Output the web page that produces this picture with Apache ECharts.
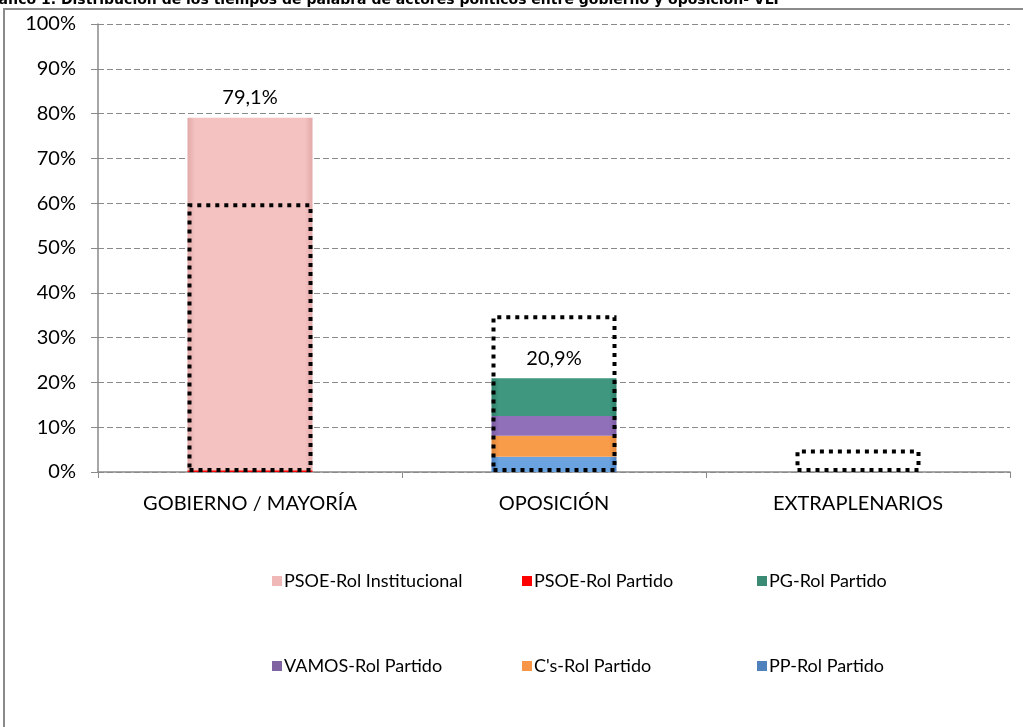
<!DOCTYPE html>
<html>
<head>
<meta charset="utf-8">
<script src="https://cdn.jsdelivr.net/npm/echarts@6/dist/echarts.min.js"></script>
<style>
html,body{margin:0;padding:0;background:#fff;}
#chart{width:1023px;height:727px;}
</style>
</head>
<body>
<div id="chart"></div>
<script>
const titleText = 'Gráfico 1. Distribución de los tiempos de palabra de actores políticos entre gobierno y oposición- VLP';
const categories = ['GOBIERNO / MAYORÍA', 'OPOSICIÓN', 'EXTRAPLENARIOS'];
const psoeInstitucional = [78.7, 0, 0];
const psoePartido = [0.4, 0, 0];
const pgPartido = [0, 8.4, 0];
const vamosPartido = [0, 4.4, 0];
const csPartido = [0, 4.7, 0];
const ppPartido = [0, 3.4, 0];
const totals = [79.1, 20.9, 0];
const referenceShare = [60, 35, 5];
const yTickLabels = ['0%','10%','20%','30%','40%','50%','60%','70%','80%','90%','100%'];

const FONT = 'Lato';
function grad(edge, base) {
  return new echarts.graphic.LinearGradient(0, 0, 1, 0, [
    {offset: 0, color: edge}, {offset: 0.06, color: base},
    {offset: 0.94, color: base}, {offset: 1, color: edge}
  ]);
}
const seriesDefs = [
  {name: 'PP-Rol Partido', data: ppPartido, color: grad('#4a7fc0', '#6aa3e0'), icon: '#4f81bd'},
  {name: "C's-Rol Partido", data: csPartido, color: grad('#e0843a', '#f89c4a'), icon: '#f79646'},
  {name: 'VAMOS-Rol Partido', data: vamosPartido, color: grad('#7a5aa0', '#9070b8'), icon: '#8064a2'},
  {name: 'PG-Rol Partido', data: pgPartido, color: grad('#2f8068', '#3f9780'), icon: '#3b8a74'},
  {name: 'PSOE-Rol Partido', data: psoePartido, color: '#ff0000', icon: '#ff0000'},
  {name: 'PSOE-Rol Institucional', data: psoeInstitucional, color: grad('#e2aaa9', '#f3c2c1'), icon: '#f0b9b8'}
];
const BW = 125;
const series = seriesDefs.map(s => ({
  name: s.name, type: 'bar', stack: 'a', data: s.data, barWidth: BW, barGap: '-100%',
  itemStyle: {color: s.color}, emphasis: {disabled: true}
}));
series.push({
  name: 'total', type: 'bar', stack: 'a', data: totals.map(() => 0), barWidth: BW, barGap: '-100%',
  itemStyle: {color: 'transparent'},
  label: {show: true, position: 'top', distance: 10, fontFamily: FONT, fontSize: 20, color: '#000',
    formatter: p => totals[p.dataIndex] ? totals[p.dataIndex].toFixed(1).replace('.', ',') + '%' : ''}
});
series.push({
  name: 'ref', type: 'bar', stack: 'ref', data: referenceShare, barWidth: BW, barGap: '-100%', z: 5,
  itemStyle: {color: 'rgba(0,0,0,0)', borderColor: '#000', borderWidth: 4, borderType: [4, 5]},
  emphasis: {disabled: true}
});

const legendLayout = [
  {name: 'PSOE-Rol Institucional', left: 272, top: 572},
  {name: 'PSOE-Rol Partido', left: 522, top: 572},
  {name: 'PG-Rol Partido', left: 757, top: 572},
  {name: 'VAMOS-Rol Partido', left: 272, top: 657},
  {name: "C's-Rol Partido", left: 522, top: 657},
  {name: 'PP-Rol Partido', left: 757, top: 657}
];
const legends = legendLayout.map(l => ({
  data: [{name: l.name, itemStyle: {color: seriesDefs.find(s => s.name === l.name).icon}}],
  left: l.left, top: l.top, icon: 'rect', itemWidth: 10, itemHeight: 10, itemGap: 0,
  padding: 0, textStyle: {fontFamily: FONT, fontSize: 18, color: '#000', padding: [0, 0, 0, -3]}
}));

const chart = echarts.init(document.getElementById('chart'));
chart.setOption({
  animation: false,
  backgroundColor: '#fff',
  graphic: [
    {type: 'rect', shape: {x: 4, y: 9, width: 1200, height: 1000}, style: {fill: 'none', stroke: '#8a8a8a', lineWidth: 2}, z: -1},
    {type: 'text', x: -20, y: -7, style: {text: titleText, font: 'bold 14px "DejaVu Sans"', fill: '#000'}}
  ],
  legend: legends,
  grid: {left: 98, right: 13, top: 24, bottom: 255},
  xAxis: {
    type: 'category', data: categories,
    axisLine: {lineStyle: {color: '#8a8a8a', width: 1.5}},
    axisTick: {show: true, length: 6, lineStyle: {color: '#8a8a8a'}},
    axisLabel: {fontFamily: FONT, fontSize: 20, color: '#000', margin: 22}
  },
  yAxis: {
    type: 'value', min: 0, max: 100, interval: 10,
    axisLine: {show: true, lineStyle: {color: '#8a8a8a', width: 1.5}},
    axisTick: {show: true, length: 7, lineStyle: {color: '#8a8a8a'}},
    axisLabel: {fontFamily: FONT, fontSize: 20, color: '#000', margin: 22,
      formatter: v => yTickLabels[Math.round(v / 10)]},
    splitLine: {show: true, lineStyle: {color: '#8a8a8a', type: [6, 3], width: 1}}
  },
  series: series
});
</script>
</body>
</html>
